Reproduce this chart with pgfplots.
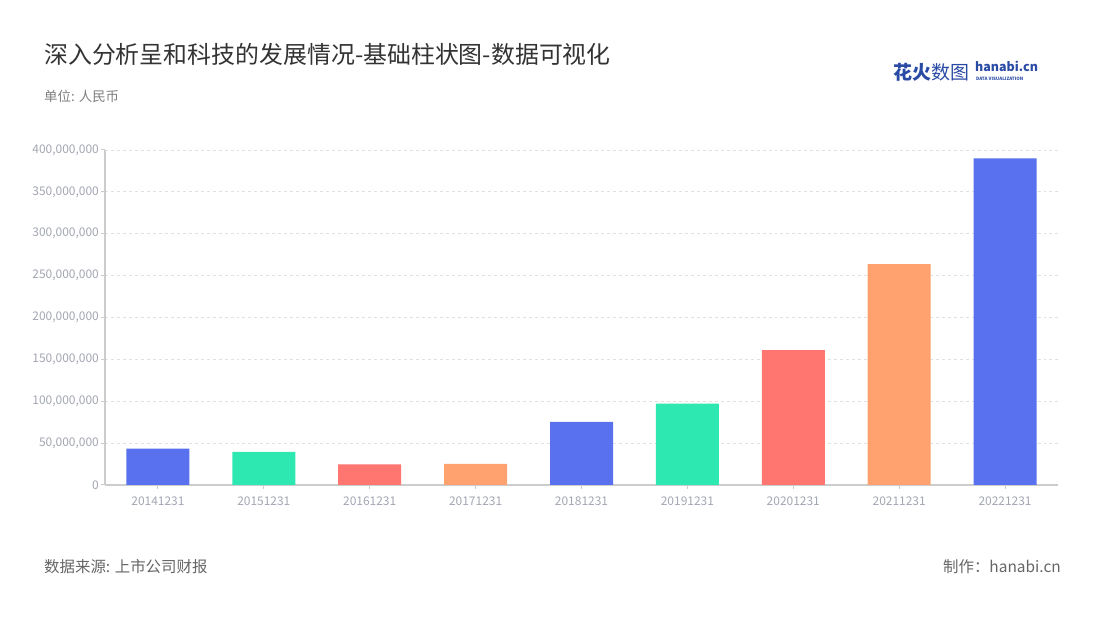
\documentclass[border=0pt]{standalone}
\usepackage{pgfplots}
\pgfplotsset{compat=1.18}
\usepackage{fontspec}
\setmainfont{Noto Sans CJK SC}

\definecolor{cblue}{HTML}{5971EE}
\definecolor{cgreen}{HTML}{2EE8B2}
\definecolor{cred}{HTML}{FF7670}
\definecolor{corange}{HTML}{FFA270}
\definecolor{ticktext}{HTML}{A3A7B2}
\definecolor{axisgray}{HTML}{CCCCCC}
\definecolor{gridgray}{HTML}{E0E0E0}
\definecolor{logoblue}{HTML}{2A4BA5}

\begin{document}
\begin{tikzpicture}[x=1bp,y=1bp]
% page background, pixel (px,py) -> (px-105, 485-py)
\fill[white] (-105,-135) rectangle (995,485);

\begin{axis}[
  at={(0,0)}, anchor=south west,
  scale only axis, width=953bp, height=335bp,
  xmin=-0.5, xmax=8.5, ymin=0, ymax=400000000,
  axis lines*=left,
  axis line style={axisgray, line width=1.2pt, -},
  xtick={0,...,8},
  xticklabels={20141231,20151231,20161231,20171231,20181231,20191231,20201231,20211231,20221231},
  ytick distance=50000000,
  scaled y ticks=false,
  /pgf/number format/.cd, fixed, precision=0, 1000 sep={,}, assume math mode=true, /pgfplots/.cd,
  tick align=outside,
  major tick length=4bp,
  tick style={axisgray, line width=1pt},
  ymajorgrids,
  grid style={gridgray, dashed, line width=0.8pt},
  yticklabel style={font=\fontsize{12}{12}\selectfont, text=ticktext, inner sep=2bp},
  xticklabel style={font=\fontsize{12}{12}\selectfont, text=ticktext, inner sep=3bp, yshift=-5bp},
  ybar, bar width=63bp, bar shift=0pt,
]
\addplot[draw=none, fill=cblue] coordinates {(0,43500000) (4,75300000) (8,390100000)};
\addplot[draw=none, fill=cgreen] coordinates {(1,39400000) (5,97300000)};
\addplot[draw=none, fill=cred] coordinates {(2,24700000) (6,161000000)};
\addplot[draw=none, fill=corange] coordinates {(3,25100000) (7,263800000)};
\end{axis}

% titles
\node[anchor=west, inner sep=0, text=black!80, font=\fontsize{24}{26}\selectfont] at (-61,431) {深入分析呈和科技的发展情况-基础柱状图-数据可视化};
\node[anchor=west, inner sep=0, text=black!50, font=\fontsize{13.5}{15}\selectfont] at (-61,389) {单位: 人民币};
% footer
\node[anchor=west, inner sep=0, text=black!60, font=\fontsize{15.5}{17}\selectfont] at (-61,-82) {数据来源: 上市公司财报};
\node[anchor=east, inner sep=0, text=black!60, font=\fontsize{15.5}{17}\selectfont] at (956,-82) {制作：hanabi.cn};
% logo
\node[anchor=west, inner sep=0, text=logoblue, font=\fontsize{19}{20}\bfseries\selectfont] at (788,413) {花火};
\node[anchor=west, inner sep=0, text=logoblue, font=\fontsize{19}{20}\selectfont] at (826,413) {数图};
\node[anchor=west, inner sep=0, text=logoblue, font=\fontsize{12.5}{13}\bfseries\selectfont] at (870,419) {hanabi.cn};
\node[anchor=west, inner sep=0, text=logoblue, font=\fontsize{4.5}{5}\bfseries\selectfont] at (871,406.5) {DATA VISUALIZATION};
\end{tikzpicture}
\end{document}
